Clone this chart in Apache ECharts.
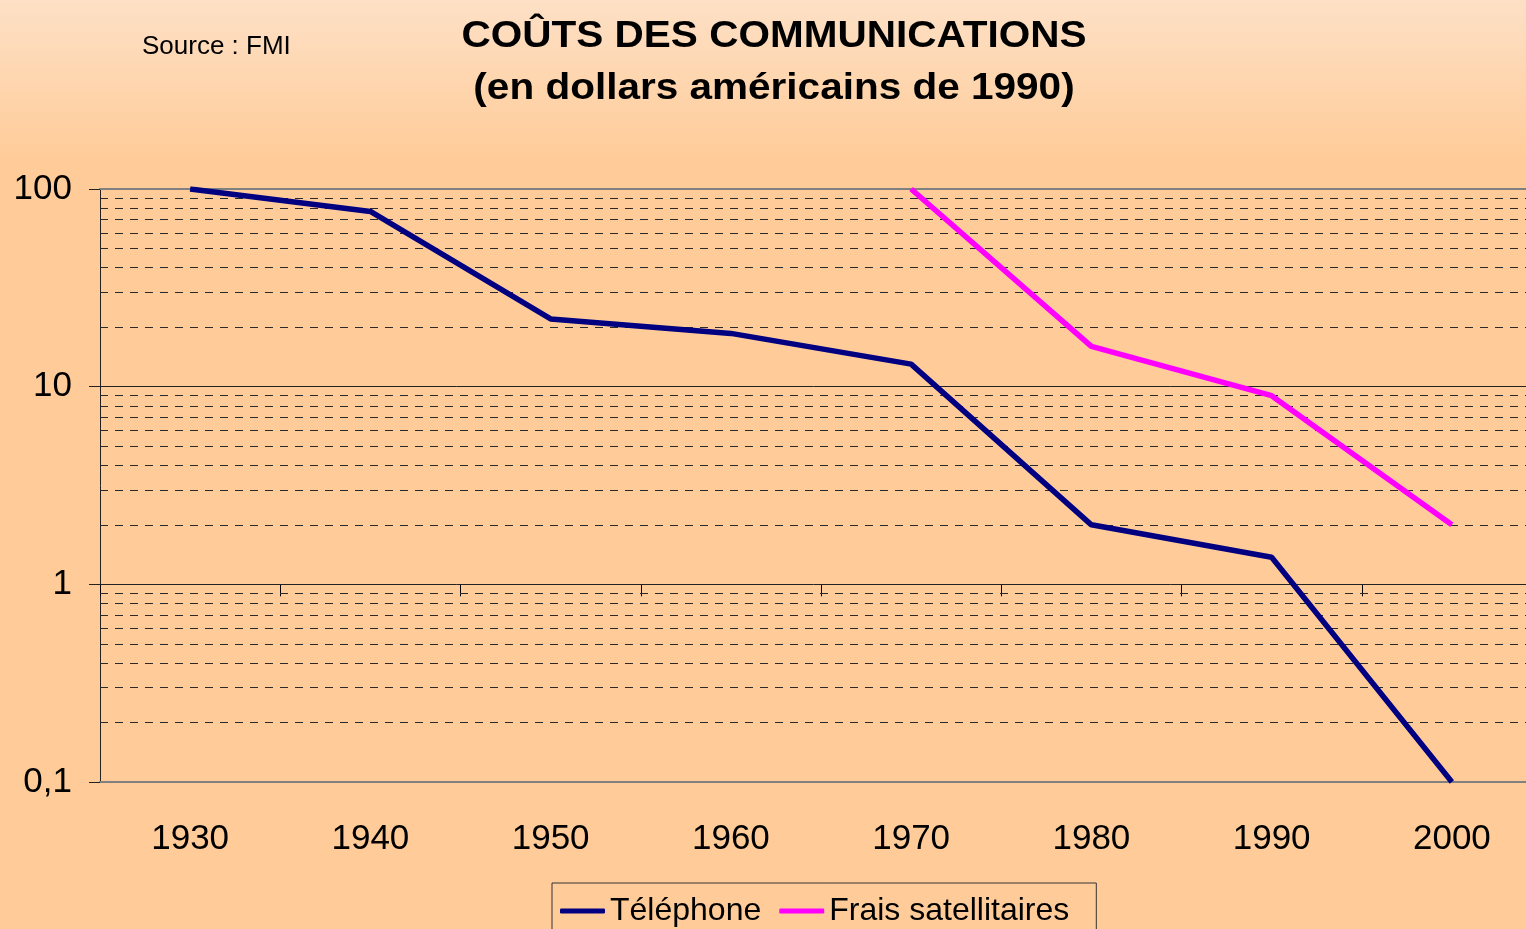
<!DOCTYPE html>
<html>
<head>
<meta charset="utf-8">
<title>Coûts des communications</title>
<script src="https://cdn.jsdelivr.net/npm/echarts@6/dist/echarts.min.js"></script>
<style>
    html, body { margin: 0; padding: 0; }
    #main { width: 1526px; height: 929px; }
</style>
</head>
<body>
<div id="main"></div>
<script>
// 数据
var years = ['1930', '1940', '1950', '1960', '1970', '1980', '1990', '2000'];
var telephone = [100, 77, 22, 18.6, 13, 2, 1.37, 0.1];
var satellite = ['-', '-', '-', '-', 100, 16, 9, 2];
// 主网格线（实线）
var majorLines = [1, 10];
// 次网格线（虚线）
var minorLines = [0.2, 0.3, 0.4, 0.5, 0.6, 0.7, 0.8, 0.9,
    2, 3, 4, 5, 6, 7, 8, 9,
    20, 30, 40, 50, 60, 70, 80, 90];

var FONT = '"Liberation Sans", Arial, sans-serif';

function load_chart(elementId){
    var option = {
        backgroundColor: {
            type: 'linear', x: 0, y: 0, x2: 0, y2: 1,
            colorStops: [
                {offset: 0, color: '#FDE0C6'},
                {offset: 0.17, color: '#FFCC99'},
                {offset: 1, color: '#FFCC99'}
            ]
        },
        animation: false,
        textStyle: { fontFamily: FONT },
        graphic: [
            {
                type: 'text', x: 142, y: 47,
                style: { text: 'Source : FMI', font: '26px ' + FONT, fill: '#000', align: 'left', verticalAlign: 'middle' }
            },
            {
                type: 'text', x: 774, y: 37, scaleX: 1.095,
                style: { text: 'COÛTS DES COMMUNICATIONS', font: 'bold 37px ' + FONT, fill: '#000', align: 'center', verticalAlign: 'middle' }
            },
            {
                type: 'text', x: 774, y: 89, scaleX: 1.095,
                style: { text: '(en dollars américains de 1990)', font: 'bold 37px ' + FONT, fill: '#000', align: 'center', verticalAlign: 'middle' }
            }
        ],
        legend: {
            left: 552,
            top: 883,
            padding: [12, 27, 10, 8],
            itemGap: 18,
            itemWidth: 45,
            itemHeight: 5,
            icon: 'roundRect',
            borderColor: '#333',
            borderWidth: 1,
            textStyle: { color: '#000', fontSize: 32, fontFamily: FONT },
            data: ['Téléphone', 'Frais satellitaires']
        },
        grid: {
            left: 100,
            width: 1442,   // 右侧超出画布（原图被裁切）
            top: 189,
            bottom: 147,
            containLabel: false,
            outerBoundsMode: 'none'
        },
        xAxis: [
            {
                type: 'category',
                data: years,
                position: 'bottom',
                boundaryGap: true,
                axisLine: { lineStyle: { color: '#808080', width: 2 } },
                axisTick: { show: false },
                axisLabel: { color: '#000', fontSize: 35, margin: 40, fontFamily: FONT },
                splitLine: { show: false }
            },
            {
                // 刻度线在 y=1 处
                type: 'category',
                data: years,
                position: 'bottom',
                offset: -197.67,
                boundaryGap: true,
                axisLine: { show: false },
                axisTick: { show: true, length: 12, inside: false, lineStyle: { color: '#000', width: 1 } },
                axisLabel: { show: false },
                splitLine: { show: false }
            },
            {
                // 顶部边框
                type: 'category',
                data: years,
                position: 'top',
                boundaryGap: true,
                axisLine: { lineStyle: { color: '#808080', width: 2 } },
                axisTick: { show: false },
                axisLabel: { show: false },
                splitLine: { show: false }
            }
        ],
        yAxis: [
            {
                type: 'log',
                logBase: 10,
                min: 0.1,
                max: 100,
                axisLine: { show: true, lineStyle: { color: '#222', width: 1 } },
                axisTick: { show: true, length: 11, lineStyle: { color: '#222' } },
                axisLabel: {
                    color: '#000',
                    fontSize: 35,
                    margin: 28,
                    fontFamily: FONT,
                    formatter: function (v) {
                        return String(+Number(v).toPrecision(3)).replace('.', ',');
                    }
                },
                splitLine: { show: false }
            }
        ],
        series: [
            {
                name: 'Téléphone',
                type: 'line',
                xAxisIndex: 0,
                data: telephone,
                symbol: 'none',
                color: '#000080',
                lineStyle: { color: '#000080', width: 5.5 },
                z: 3,
                markLine: {
                    silent: true,
                    symbol: ['none', 'none'],
                    z: 1,
                    animation: false,
                    label: { show: false },
                    emphasis: { disabled: true },
                    data: minorLines.map(function (v) {
                        return { yAxis: v, lineStyle: { color: '#2a2a2a', width: 1, type: [8, 7] } };
                    }).concat(majorLines.map(function (v) {
                        return { yAxis: v, lineStyle: { color: '#222', width: 1, type: 'solid' } };
                    }))
                }
            },
            {
                name: 'Frais satellitaires',
                type: 'line',
                xAxisIndex: 0,
                data: satellite,
                symbol: 'none',
                color: '#FF00FF',
                lineStyle: { color: '#FF00FF', width: 5.5 },
                z: 3
            }
        ]
    };
    var myChart = echarts.init(document.getElementById(elementId));
    myChart.setOption(option, true);
}

load_chart('main');
</script>
</body>
</html>
